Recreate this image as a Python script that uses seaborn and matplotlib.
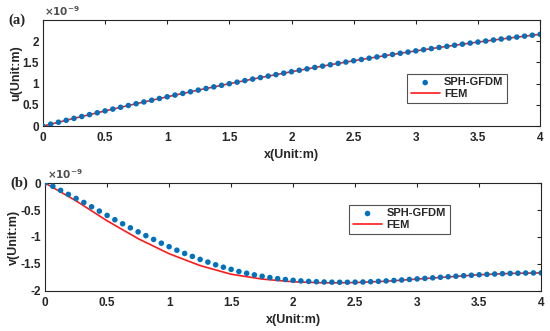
import numpy as np
import pandas as pd
import matplotlib
matplotlib.use("Agg")
import matplotlib.pyplot as plt
import seaborn as sns
from matplotlib.ticker import FormatStrFormatter

# x positions of SPH-GFDM particles (step 0.0625) and FEM nodes (step 0.25)
x_sph = [i * 0.0625 for i in range(65)]
x_fem = [i * 0.25 for i in range(17)]

# values in units of 1e-9 m
u_sph = [0.000, 0.046, 0.092, 0.137, 0.182, 0.226, 0.271, 0.314, 0.358, 0.400,
         0.443, 0.485, 0.527, 0.568, 0.609, 0.650, 0.690, 0.730, 0.769, 0.808,
         0.847, 0.885, 0.923, 0.960, 0.998, 1.034, 1.071, 1.106, 1.142, 1.177,
         1.212, 1.246, 1.280, 1.314, 1.347, 1.380, 1.412, 1.444, 1.476, 1.507,
         1.538, 1.568, 1.598, 1.628, 1.657, 1.686, 1.714, 1.742, 1.770, 1.797,
         1.824, 1.851, 1.877, 1.903, 1.928, 1.953, 1.978, 2.002, 2.026, 2.049,
         2.072, 2.095, 2.117, 2.139, 2.160]
u_fem = [0.000, 0.182, 0.357, 0.527, 0.690, 0.847, 0.998, 1.142, 1.280,
         1.412, 1.538, 1.657, 1.770, 1.877, 1.978, 2.072, 2.160]

v_sph = [0.000, -0.060, -0.135, -0.210, -0.285, -0.360, -0.440, -0.520, -0.600,
         -0.680, -0.755, -0.830, -0.905, -0.975, -1.045, -1.115, -1.180, -1.245,
         -1.305, -1.360, -1.415, -1.465, -1.515, -1.560, -1.600, -1.640, -1.672,
         -1.702, -1.728, -1.752, -1.772, -1.788, -1.803, -1.814, -1.823, -1.829,
         -1.834, -1.837, -1.839, -1.839, -1.837, -1.834, -1.829, -1.822, -1.814,
         -1.806, -1.797, -1.787, -1.777, -1.767, -1.757, -1.747, -1.737, -1.727,
         -1.718, -1.709, -1.700, -1.693, -1.686, -1.680, -1.675, -1.671, -1.668,
         -1.666, -1.665]
v_fem = [0.000, -0.330, -0.700, -1.030, -1.310, -1.530, -1.690, -1.780, -1.830,
         -1.850, -1.845, -1.820, -1.780, -1.740, -1.700, -1.675, -1.665]

sns.set_theme(style="white")
plt.rcParams["font.family"] = ["Liberation Sans", "DejaVu Sans"]
plt.rcParams["font.weight"] = "bold"

fig = plt.figure(figsize=(5.5, 3.31), dpi=100)
ax_a = fig.add_axes([0.078, 0.619, 0.904, 0.321])
ax_b = fig.add_axes([0.082, 0.121, 0.902, 0.326])

blue = "#0072BD"
red = "#FF1A1A"

panels = [
    (ax_a, u_sph, u_fem, "u(Unit:m)", (0, 2.5), [0, 0.5, 1, 1.5, 2], (0.732, 0.217), "(a)"),
    (ax_b, v_sph, v_fem, "v(Unit:m)", (-2, 0), [-2, -1.5, -1, -0.5, 0], (0.613, 0.528), "(b)"),
]

for ax, ys, yf, ylab, ylim, yticks, leg_anchor, tag in panels:
    df_s = pd.DataFrame({"x": x_sph, "y": ys})
    df_f = pd.DataFrame({"x": x_fem, "y": yf})
    sns.scatterplot(data=df_s, x="x", y="y", ax=ax, color=blue, s=16,
                    edgecolor="none", label="SPH-GFDM", zorder=3)
    sns.lineplot(data=df_f, x="x", y="y", ax=ax, color=red, lw=1.2,
                 label="FEM", zorder=2)
    ax.set_xlim(0, 4)
    ax.set_ylim(*ylim)
    ax.set_xticks([0, 0.5, 1, 1.5, 2, 2.5, 3, 3.5, 4])
    ax.set_yticks(yticks)
    ax.xaxis.set_major_formatter(FormatStrFormatter("%g"))
    ax.yaxis.set_major_formatter(FormatStrFormatter("%g"))
    ax.tick_params(direction="in", length=3, width=0.8, labelsize=8.5,
                   top=True, right=True, colors="#262626")
    ax.tick_params(axis="x", pad=4)
    ax.tick_params(axis="y", pad=3)
    for lbl in ax.get_xticklabels() + ax.get_yticklabels():
        lbl.set_fontweight("bold")
    for sp in ax.spines.values():
        sp.set_color("#262626")
        sp.set_linewidth(0.8)
    ax.set_xlabel("x(Unit:m)", fontsize=9, fontweight="bold", labelpad=4)
    ax.set_ylabel(ylab, fontsize=9, fontweight="bold", labelpad=0)
    leg = ax.legend(loc="lower left", bbox_to_anchor=leg_anchor,
                    frameon=True, fancybox=False, edgecolor="#262626",
                    borderpad=0.35, handlelength=2.6, handletextpad=0.4,
                    labelspacing=0.15, borderaxespad=0,
                    prop={"weight": "bold", "size": 8})
    leg.get_frame().set_linewidth(0.8)
    ax.text(0.003, 1.015, r"$\times 10^{-9}$", transform=ax.transAxes,
            fontsize=7.5, color="#505050", ha="left", va="bottom",
            fontweight="normal")
    ax.text(-0.052, 1.0, tag, transform=ax.transAxes, fontsize=10.5,
            fontweight="bold", family=["Liberation Serif", "DejaVu Serif"],
            ha="center", va="center")

fig.savefig("out.png", dpi=100)
